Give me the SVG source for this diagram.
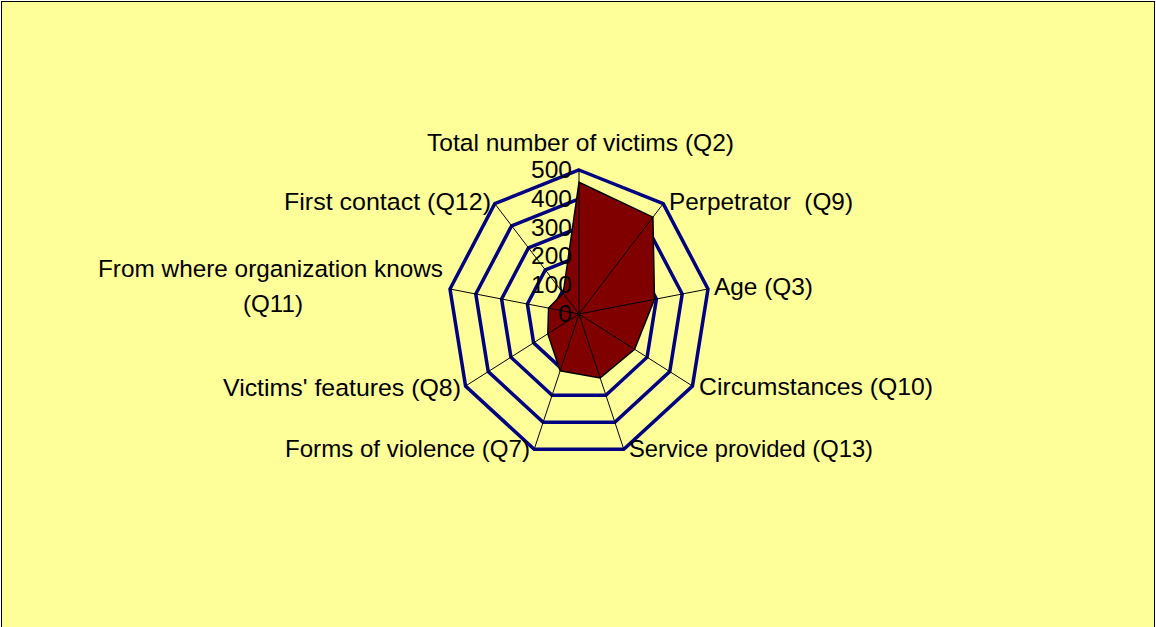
<svg xmlns="http://www.w3.org/2000/svg" width="1156" height="627" viewBox="0 0 1156 627">
<style>
.ring{fill:none;stroke:#000080;stroke-width:3.5;stroke-linejoin:miter}
.spoke{stroke:#000000;stroke-width:1}
.series{fill:#800000;stroke:#000000;stroke-width:1.5;stroke-linejoin:miter}
text{font-family:"Liberation Sans",Arial,sans-serif;font-size:24.5px;fill:#000000}
.tick{text-anchor:end}
</style>
<rect id="background" x="1.5" y="1.5" width="1153" height="640" fill="#FFFF99" stroke="#000000" stroke-width="1"/>
<g id="grid-rings">
<polygon class="ring" points="579,170 663.21,203.70 708.01,289.00 692.45,386 623.80,449.32 534.20,449.32 465.55,386 449.99,289.00 494.79,203.70"/>
<polygon class="ring" points="579,198.8 646.37,225.76 682.21,294.00 669.76,371.6 614.84,422.26 543.16,422.26 488.24,371.6 475.79,294.00 511.63,225.76"/>
<polygon class="ring" points="579,227.6 629.53,247.82 656.41,299.00 647.07,357.2 605.88,395.19 552.12,395.19 510.93,357.2 501.59,299.00 528.47,247.82"/>
<polygon class="ring" points="579,256.4 612.68,269.88 630.60,304.00 624.38,342.8 596.92,368.13 561.08,368.13 533.62,342.8 527.40,304.00 545.32,269.88"/>
<polygon class="ring" points="579,285.2 595.84,291.94 604.80,309.00 601.69,328.4 587.96,341.06 570.04,341.06 556.31,328.4 553.20,309.00 562.16,291.94"/>
</g>
<g id="series-victims">
<polygon class="series" points="579,182.24 652.94,217.16 654.47,299.37 634.59,349.28 600.15,377.87 560.18,370.83 547.80,333.8 548.55,308.1 563.17,293.26"/>
</g>
<g id="connectors">
<line class="spoke" x1="579" y1="314" x2="579" y2="170"/>
<line class="spoke" x1="579" y1="314" x2="663.21" y2="203.70"/>
<line class="spoke" x1="579" y1="314" x2="708.01" y2="289.00"/>
<line class="spoke" x1="579" y1="314" x2="692.45" y2="386"/>
<line class="spoke" x1="579" y1="314" x2="623.80" y2="449.32"/>
<line class="spoke" x1="579" y1="314" x2="534.20" y2="449.32"/>
<line class="spoke" x1="579" y1="314" x2="465.55" y2="386"/>
<line class="spoke" x1="579" y1="314" x2="449.99" y2="289.00"/>
<line class="spoke" x1="579" y1="314" x2="494.79" y2="203.70"/>
</g>
<g id="axis-ticks">
<text class="tick" x="572" y="322">0</text>
<text class="tick" x="572" y="293.2">100</text>
<text class="tick" x="572" y="264.4">200</text>
<text class="tick" x="572" y="235.6">300</text>
<text class="tick" x="572" y="206.8">400</text>
<text class="tick" x="572" y="178">500</text>
</g>
<g id="label-q2"><text x="427" y="151" textLength="307" lengthAdjust="spacingAndGlyphs">Total number of victims (Q2)</text></g>
<g id="label-q9"><text x="669" y="210" xml:space="preserve" textLength="184" lengthAdjust="spacingAndGlyphs">Perpetrator  (Q9)</text></g>
<g id="label-q3"><text x="714" y="295" textLength="99" lengthAdjust="spacingAndGlyphs">Age (Q3)</text></g>
<g id="label-q10"><text x="699" y="395" textLength="234" lengthAdjust="spacingAndGlyphs">Circumstances (Q10)</text></g>
<g id="label-q13"><text x="629" y="457" textLength="244" lengthAdjust="spacingAndGlyphs">Service provided (Q13)</text></g>
<g id="label-q7"><text x="285" y="457" textLength="245" lengthAdjust="spacingAndGlyphs">Forms of violence (Q7)</text></g>
<g id="label-q8"><text x="223" y="396" textLength="238" lengthAdjust="spacingAndGlyphs">Victims' features (Q8)</text></g>
<g id="label-q11"><text x="98" y="277" textLength="345" lengthAdjust="spacingAndGlyphs">From where organization knows</text><text x="243" y="312" textLength="60" lengthAdjust="spacingAndGlyphs">(Q11)</text></g>
<g id="label-q12"><text x="284" y="210" textLength="207" lengthAdjust="spacingAndGlyphs">First contact (Q12)</text></g>
</svg>
